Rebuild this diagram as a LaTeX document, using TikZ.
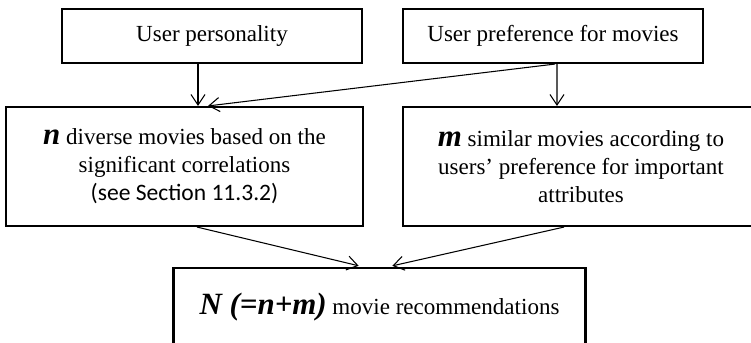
\documentclass[tikz,border=0pt]{standalone}
\usepackage{fontspec}
\setmainfont{Liberation Serif}
\newfontfamily\secfont{Carlito}
\usepackage{tikz}
\usetikzlibrary{positioning,arrows.meta,shapes}
\newcommand{\bigvar}[1]{{\fontsize{17.6pt}{15.9pt}\selectfont\bfseries\itshape #1}}
\tikzstyle{topbox} = [rectangle, minimum width=6cm, minimum height=1.08cm, text centered, draw=black, line width=1.2pt, font=\fontsize{13.1pt}{15.9pt}\selectfont]
\tikzstyle{midbox} = [rectangle, minimum width=7.14cm, minimum height=2.38cm, align=center, draw=black, line width=1.2pt, font=\fontsize{13.1pt}{15.9pt}\selectfont]
\tikzstyle{endbox} = [rectangle, minimum width=8.24cm, minimum height=1.56cm, text centered, draw=black, line width=1.2pt, font=\fontsize{13.1pt}{15.9pt}\selectfont]
\tikzstyle{arrow} = [line width=0.6pt,-{Straight Barb[length=6pt,width=8pt]}]

\begin{document}
\begin{tikzpicture}[node distance=1.2cm]
      \useasboundingbox (0,0) rectangle (15.02,-6.84);
      \clip (0,0) rectangle (15.02,-6.84);
      \node (persona) [topbox] at (4.24,-0.72) {User personality};
      \node (prefmov) [topbox, right of=persona, xshift=5.62cm] {User preference for movies};
      \node (diverse) [midbox, below of=persona, xshift=-0.55cm, yshift=-1.41cm] {\bigvar{n} diverse movies based on the\\ significant correlations\\ {\secfont\fontsize{13.4pt}{15.9pt}\selectfont (see Section 11.3.2)}};
      \node (similar) [midbox, minimum width=7.12cm, below of=prefmov, xshift=0.56cm, yshift=-1.41cm] {\bigvar{m} similar movies according to\\ users' preference for important\\ attributes};
      \node (recs) [endbox, below of=diverse, xshift=3.9cm, yshift=-1.61cm] {\bigvar{N (=n+m)} movie recommendations};
      \draw [arrow] ([xshift=-0.28cm]persona.south) -- ([xshift=0.27cm]diverse.north);
      \draw [arrow] ([xshift=0.04cm]prefmov.south) -- ([xshift=0.47cm]diverse.north);
      \draw [arrow] ([xshift=0.08cm]prefmov.south) -- ([xshift=-0.48cm]similar.north);
      \draw [arrow, shorten >=0.1cm] ([xshift=0.25cm]diverse.south) -- ([xshift=-0.32cm]recs.north);
      \draw [arrow, shorten >=0.1cm] ([xshift=-0.34cm]similar.south) -- ([xshift=0.16cm]recs.north);

    \end{tikzpicture}
\end{document}
